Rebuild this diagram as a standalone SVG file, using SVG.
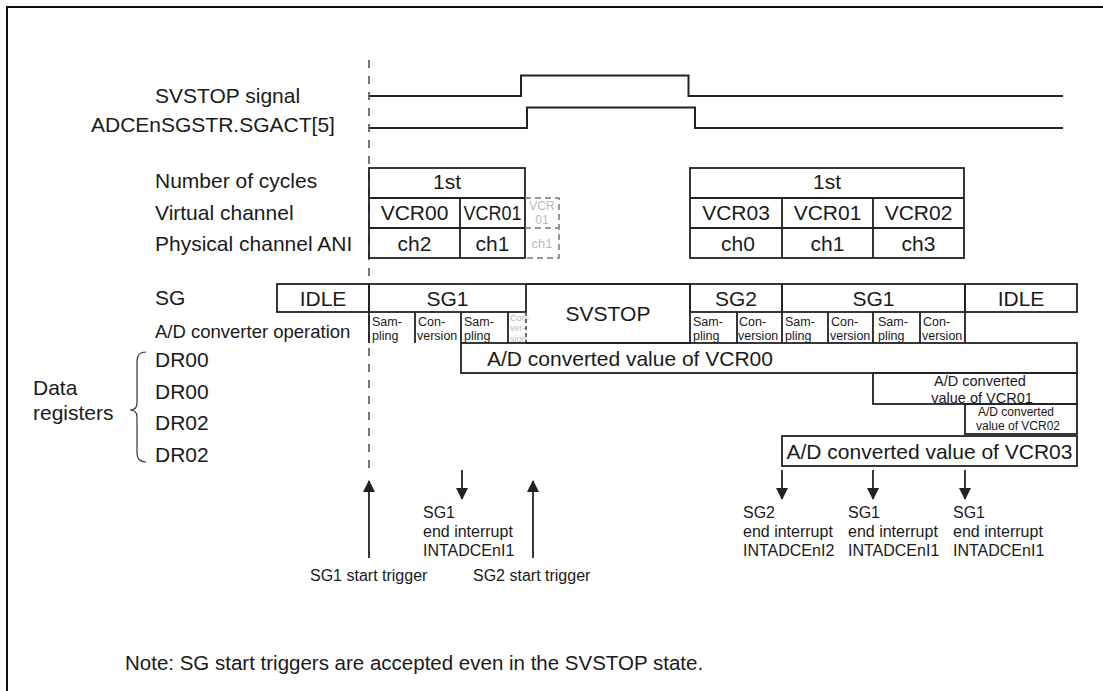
<svg xmlns="http://www.w3.org/2000/svg" width="1103" height="691" viewBox="0 0 1103 691">
<style>
.t{font-family:"Liberation Sans",Arial,sans-serif;fill:#1a1a1a;font-size:21px}
.m{text-anchor:middle}
.s{font-size:16px}
.x{font-size:12.5px}
.g{fill:#bbb}
.b{fill:none;stroke:#222;stroke-width:1.8}
.d{fill:none;stroke:#777;stroke-width:1.5;stroke-dasharray:6,4}
.w{fill:none;stroke:#222;stroke-width:2}
</style>
<defs>
<marker id="ah" viewBox="0 0 12 12" refX="11" refY="6" markerWidth="12" markerHeight="12" markerUnits="userSpaceOnUse" orient="auto">
<path d="M0,0 L12,6 L0,12 Z" fill="#222"/>
</marker>
</defs>
<rect x="0" y="0" width="1103" height="691" fill="#fff"/>
<rect x="7" y="7" width="1110" height="700" fill="none" stroke="#111" stroke-width="2"/>

<g id="labels">
<text class="t" x="155" y="103">SVSTOP signal</text>
<text class="t" x="91" y="132">ADCEnSGSTR.SGACT[5]</text>
<text class="t" x="155" y="188">Number of cycles</text>
<text class="t" x="155" y="220">Virtual channel</text>
<text class="t" x="155" y="251">Physical channel ANI</text>
<text class="t" x="155" y="305">SG</text>
<text class="t" x="155" y="338" style="font-size:18.5px">A/D converter operation</text>
<text class="t" x="155" y="367">DR00</text>
<text class="t" x="155" y="399">DR00</text>
<text class="t" x="155" y="430">DR02</text>
<text class="t" x="155" y="462">DR02</text>
<text class="t" x="33" y="395">Data</text>
<text class="t" x="33" y="420">registers</text>
<path d="M146,352 Q137,352 137,361 L137,403 Q137,410 130,410 Q137,410 137,417 L137,453 Q137,462 146,462" fill="none" stroke="#333" stroke-width="1.2"/>
</g>

<g id="signals">
<path class="w" d="M369,96 H521 V75.5 H688.5 V96 H1063"/>
<path class="w" d="M369,128 H527 V107.5 H695 V128 H1063"/>
<line x1="369" y1="60" x2="369" y2="474" stroke="#555" stroke-width="1.6" stroke-dasharray="8,8"/>
</g>

<g id="table1">
<rect class="b" x="369" y="168" width="156" height="90"/>
<path class="b" d="M369,198 H525 M369,228 H525 M460,198 V258"/>
<text class="t m" x="447" y="189">1st</text>
<text class="t m" x="414.5" y="220">VCR00</text>
<text class="t m" x="492.5" y="220" textLength="58" lengthAdjust="spacingAndGlyphs">VCR01</text>
<text class="t m" x="414.5" y="251">ch2</text>
<text class="t m" x="492.5" y="251">ch1</text>
<path class="d" d="M525,198 H559 V258 H525 M525,228 H559"/>
<text class="t m g" x="542" y="210" style="font-size:12px">VCR</text>
<text class="t m g" x="542" y="224" style="font-size:12px">01</text>
<text class="t m g" x="542" y="248" style="font-size:13px">ch1</text>
</g>

<g id="table2">
<rect class="b" x="690" y="168" width="274" height="90"/>
<path class="b" d="M690,198 H964 M690,228 H964 M782,198 V258 M873,198 V258"/>
<text class="t m" x="827" y="189">1st</text>
<text class="t m" x="736" y="220">VCR03</text>
<text class="t m" x="827.5" y="220">VCR01</text>
<text class="t m" x="918.5" y="220">VCR02</text>
<text class="t m" x="738" y="251">ch0</text>
<text class="t m" x="827.5" y="251">ch1</text>
<text class="t m" x="918.5" y="251">ch3</text>
</g>

<g id="sg-idle1">
<rect class="b" x="277" y="284" width="92" height="28"/>
<text class="t m" x="323" y="306">IDLE</text>
</g>
<g id="sg-sg1a">
<rect class="b" x="369" y="284" width="157" height="28"/>
<text class="t m" x="447.5" y="306">SG1</text>
<path class="b" d="M369,312 V343 M415,312 V343 M461,312 V343 M508,312 V343"/>
<text class="t x" x="372" y="325.5">Sam-</text>
<text class="t x" x="372" y="340">pling</text>
<text class="t x" x="418" y="325.5">Con-</text>
<text class="t x" x="417" y="340">version</text>
<text class="t x" x="464" y="325.5">Sam-</text>
<text class="t x" x="464" y="340">pling</text>
<text class="t g" x="510" y="320.5" style="font-size:9px">Con-</text>
<text class="t g" x="510" y="331" style="font-size:9px">ver-</text>
<text class="t g" x="510" y="341.5" style="font-size:9px">sion</text>
</g>
<g id="sg-svstop">
<path class="b" d="M526,284 H690 V343 H526"/>
<line x1="526" y1="312" x2="526" y2="343" stroke="#444" stroke-width="1.6" stroke-dasharray="4,3"/>
<text class="t m" x="608" y="321">SVSTOP</text>
</g>
<g id="sg-sg2">
<rect class="b" x="690" y="284" width="92" height="28"/>
<text class="t m" x="736" y="306">SG2</text>
<path class="b" d="M737,312 V343 M782,312 V343"/>
<text class="t x" x="693" y="325.5">Sam-</text>
<text class="t x" x="693" y="340">pling</text>
<text class="t x" x="739" y="325.5">Con-</text>
<text class="t x" x="738" y="340">version</text>
</g>
<g id="sg-sg1b">
<rect class="b" x="782" y="284" width="183" height="28"/>
<text class="t m" x="873.5" y="306">SG1</text>
<path class="b" d="M828,312 V343 M873,312 V343 M920,312 V343 M965,312 V343"/>
<text class="t x" x="785" y="325.5">Sam-</text>
<text class="t x" x="785" y="340">pling</text>
<text class="t x" x="831" y="325.5">Con-</text>
<text class="t x" x="830" y="340">version</text>
<text class="t x" x="878" y="325.5">Sam-</text>
<text class="t x" x="878" y="340">pling</text>
<text class="t x" x="923" y="325.5">Con-</text>
<text class="t x" x="922" y="340">version</text>
</g>
<g id="sg-idle2">
<rect class="b" x="965" y="284" width="112" height="28"/>
<text class="t m" x="1021" y="306">IDLE</text>
</g>

<g id="dr-vcr00">
<rect class="b" x="461" y="343" width="616" height="30"/>
<text class="t" x="487" y="366">A/D converted value of VCR00</text>
</g>
<g id="dr-vcr01">
<rect class="b" x="873" y="373" width="204" height="31"/>
<text class="t m" x="980" y="386" style="font-size:14.5px">A/D converted</text>
<text class="t m" x="982" y="402.5" style="font-size:14.5px">value of VCR01</text>
</g>
<g id="dr-vcr02">
<rect class="b" x="965" y="404" width="112" height="30"/>
<text class="t m" x="1016" y="416" style="font-size:12px">A/D converted</text>
<text class="t m" x="1018" y="430" style="font-size:12px">value of VCR02</text>
</g>
<g id="dr-vcr03">
<rect class="b" x="782" y="436" width="295" height="30"/>
<text class="t m" x="929.5" y="459">A/D converted value of VCR03</text>
</g>

<g id="connectors" stroke="#222" stroke-width="1.8">
<line x1="369" y1="558" x2="369" y2="481" marker-end="url(#ah)"/>
<line x1="533" y1="558" x2="533" y2="481" marker-end="url(#ah)"/>
<line x1="462" y1="470" x2="462" y2="499" marker-end="url(#ah)"/>
<line x1="782" y1="470" x2="782" y2="499" marker-end="url(#ah)"/>
<line x1="873" y1="470" x2="873" y2="499" marker-end="url(#ah)"/>
<line x1="965" y1="470" x2="965" y2="499" marker-end="url(#ah)"/>
</g>

<g id="events">
<text class="t s" x="310" y="581">SG1 start trigger</text>
<text class="t s" x="473" y="581">SG2 start trigger</text>
<text class="t s" x="423" y="518">SG1</text>
<text class="t s" x="423" y="537">end interrupt</text>
<text class="t s" x="423" y="556">INTADCEnI1</text>
<text class="t s" x="743" y="518">SG2</text>
<text class="t s" x="743" y="537">end interrupt</text>
<text class="t s" x="743" y="556">INTADCEnI2</text>
<text class="t s" x="848" y="518">SG1</text>
<text class="t s" x="848" y="537">end interrupt</text>
<text class="t s" x="848" y="556">INTADCEnI1</text>
<text class="t s" x="953" y="518">SG1</text>
<text class="t s" x="953" y="537">end interrupt</text>
<text class="t s" x="953" y="556">INTADCEnI1</text>
</g>

<g id="note">
<text class="t" x="125" y="670" style="font-size:20.5px">Note: SG start triggers are accepted even in the SVSTOP state.</text>
</g>
</svg>
